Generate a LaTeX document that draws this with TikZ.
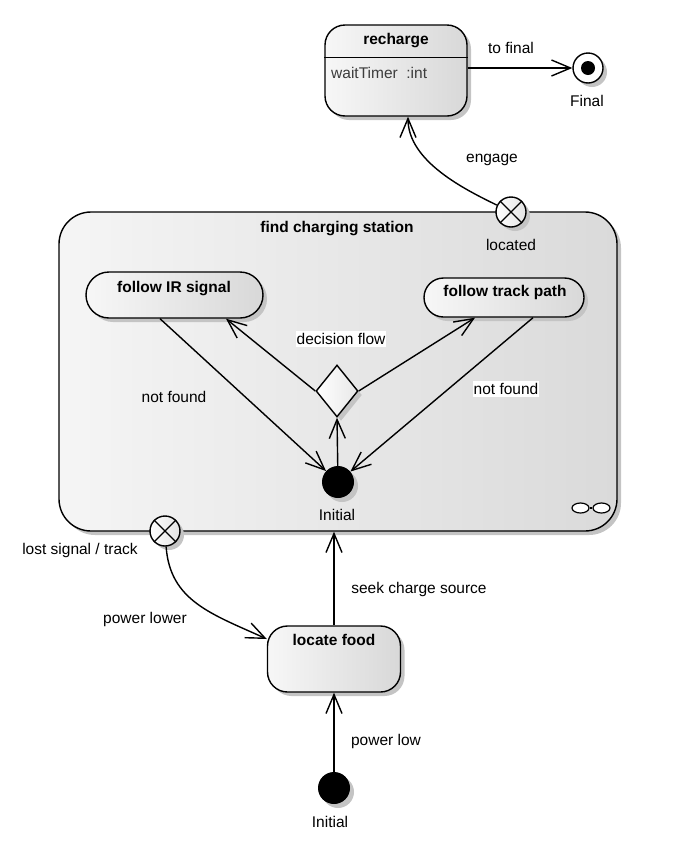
\documentclass[tikz,border=0pt]{standalone}
\usepackage{fontspec}
\setmainfont{Liberation Sans}
\usetikzlibrary{arrows.meta,shadows,shapes.geometric,calc}
\definecolor{boxL}{HTML}{F7F7F7}
\definecolor{boxR}{HTML}{D8D8D8}
\definecolor{cmpL}{HTML}{F5F5F5}
\definecolor{cmpR}{HTML}{DADADA}
\definecolor{shadowc}{HTML}{C4C4C4}
\definecolor{txtgray}{HTML}{3C3C3C}
\begin{document}
\begin{tikzpicture}[x=1pt,y=-1pt,
  every node/.style={inner sep=0pt},
  lbl/.style={font=\fontsize{15.5}{18}\selectfont, text height=11.5pt, text depth=0pt},
  wlbl/.style={lbl, fill=white, inner xsep=1pt, inner ysep=2pt},
  ttl/.style={lbl, font=\fontsize{15.5}{18}\selectfont\bfseries},
  shd/.style={drop shadow={shadow xshift=4pt, shadow yshift=-4pt, fill=shadowc, opacity=1}},
  sbox/.style={draw, line width=1.4pt, left color=boxL, right color=boxR, shd},
  cbox/.style={draw, line width=1.4pt, left color=cmpL, right color=cmpR, shd},
  expt/.style={circle, draw, line width=1.4pt, minimum size=30pt, left color=white, right color=boxR!70, shd},
  initst/.style={circle, fill=black, minimum size=32pt, shd},
  conn/.style={line width=1.4pt, -{Straight Barb[length=19pt,width=16pt]}},
  plain/.style={line width=1.4pt}
]
\useasboundingbox (0,0) rectangle (684,868);

% composite state
\node[cbox, rounded corners=32pt, minimum width=558pt, minimum height=319pt] (fcs) at (338,371.5) {};
\node[ttl] (fcst) at (337,227) {find charging station};
\node[ellipse, draw, line width=1.2pt, fill=white, minimum width=17pt, minimum height=10pt] (ic1) at (580.5,508) {};
\node[ellipse, draw, line width=1.2pt, fill=white, minimum width=17pt, minimum height=10pt] (ic2) at (601.5,508) {};
\draw[line width=1.2pt] (ic1) -- (ic2);

% recharge
\node[sbox, rounded corners=20pt, minimum width=142pt, minimum height=91pt] (rc) at (396,70.5) {};
\node[ttl] (rct) at (396,39) {recharge};
\draw[plain] ($(rc.north west)+(0,33)$) -- ($(rc.north east)+(0,33)$);
\node[lbl, anchor=west, text=txtgray] (rca) at (331,73) {waitTimer\ \ :int};

% final
\node[circle, draw, line width=1.4pt, fill=white, minimum size=30pt, shd] (fin) at (588,68) {};
\node[circle, fill=black, minimum size=14pt] (finin) at (fin.center) {};
\node[lbl] (finl) at (587,101) {Final};
\draw[conn] (rc.east |- fin.west) -- (fin);
\node[lbl] (tofl) at (511,48) {to final};

% located exit point
\node[expt] (loc) at (511,212) {};
\draw[plain] (loc.45) -- (loc.225) (loc.135) -- (loc.315);
\node[lbl] (locl) at (511,245) {located};
\draw[conn] (loc) .. controls +(-45,-22) and +(0,45) .. ($(rc.south)+(12,0)$);
\node[lbl] (engl) at (492,157) {engage};

% inner states
\node[sbox, rounded corners=23pt, minimum width=177pt, minimum height=46pt] (ir) at (174.5,295) {};
\node[ttl] (irt) at (174,287) {follow IR signal};
\node[sbox, rounded corners=19.5pt, minimum width=160pt, minimum height=39pt] (tr) at (504,297.5) {};
\node[ttl] (trt) at (505,291) {follow track path};

% decision
\node[diamond, draw, line width=1.4pt, left color=white, right color=boxR!60, minimum width=42pt, minimum height=52pt, shd] (dec) at (337,391) {};
\node[wlbl] (decl) at (341,339) {decision flow};

% inner initial
\node[initst] (ini) at (338,482) {};
\node[lbl] (inil) at (337,515) {Initial};

\draw[conn] (dec.west) -- ($(ir.south)+(51.5,0)$);
\draw[conn] (dec.east) -- ($(tr.south)+(-29,0)$);
\draw[conn] (ini) -- (dec.south);
\draw[conn] ($(ir.south)+(-14.5,0)$) -- (ini);
\draw[conn] ($(tr.south)+(29,0)$) -- (ini);
\node[lbl] (nf1) at (174,397) {not found};
\node[wlbl] (nf2) at (506,389) {not found};

% lost signal exit point
\node[expt] (lst) at (165,531) {};
\draw[plain] (lst.45) -- (lst.225) (lst.135) -- (lst.315);
\node[lbl] (lstl) at (80,549) {lost signal / track};

% locate food
\node[sbox, rounded corners=20pt, minimum width=133pt, minimum height=66pt] (lf) at (334,659) {};
\node[ttl] (lft) at (334,640) {locate food};
\draw[conn] (lst) .. controls +(5,70) and +(-55,-25) .. ($(lf.west)+(0,-20)$);
\node[lbl] (pwl) at (145,618) {power lower};
\draw[conn] (lf.north) -- (lf.north |- fcs.south);
\node[lbl] (scs) at (419,588) {seek charge source};

% bottom initial
\node[initst] (ini2) at (334,788) {};
\node[lbl] (ini2l) at (330,822) {Initial};
\draw[conn] (ini2) -- (lf.south -| ini2);
\node[lbl] (pw) at (386,740) {power low};
\end{tikzpicture}
\end{document}
